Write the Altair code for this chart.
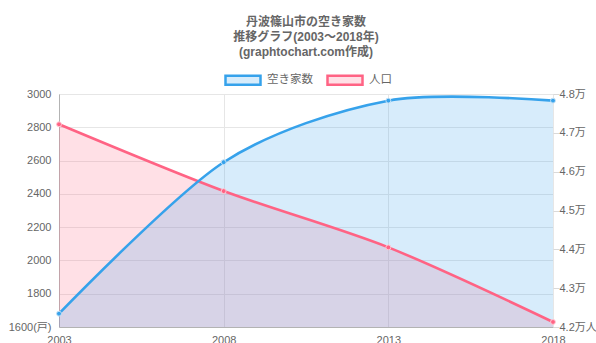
import altair as alt
import pandas as pd

# ---- data ----
years = [2003, 2008, 2013, 2018]
akiya = [1680, 2590, 2960, 2960]          # 空き家数 (戸), left axis
jinko = [47220, 45500, 44050, 42130]      # 人口 (人), right axis
series_names = ["空き家数", "人口"]
title_lines = ["丹波篠山市の空き家数", "推移グラフ(2003～2018年)", "(graphtochart.com作成)"]
left_ticks = [1600, 1800, 2000, 2200, 2400, 2600, 2800, 3000]
right_ticks = [42000, 43000, 44000, 45000, 46000, 47000, 48000]
left_domain = [1600, 3000]
right_domain = [42000, 48000]

# ---- styles ----
line_colors = ["#36a2eb", "#ff6384"]
fill_colors = ["rgba(54,162,235,0.2)", "rgba(255,99,132,0.2)"]
FONT = "Liberation Sans, Noto Sans CJK JP, sans-serif"
TXT = "#666666"
GRID = "#e6e6e6"
AXIS_LINE = "#b3b3b3"
TENSION = 0.12

df = pd.DataFrame({
    "year": years + years,
    "series": [series_names[0]] * len(years) + [series_names[1]] * len(years),
    "value": akiya + jinko,
})
df_a = df[df["series"] == series_names[0]]
df_j = df[df["series"] == series_names[1]]

legend = alt.Legend(
    title=None, orient="none", legendX=165, legendY=-33, direction="horizontal",
    symbolType="M-1,-0.26H1V0.26H-1Z", symbolSize=1225, symbolStrokeWidth=2.5,
    labelFont=FONT, labelFontSize=11.5, labelColor=TXT, labelOffset=5, columnPadding=9,
)
fill_enc = alt.Fill("series:N", scale=alt.Scale(domain=series_names, range=fill_colors), legend=legend)
stroke_enc = alt.Stroke("series:N", scale=alt.Scale(domain=series_names, range=line_colors), legend=legend)

x_enc = alt.X(
    "year:Q",
    scale=alt.Scale(domain=[years[0], years[-1]], nice=False, zero=False),
    axis=alt.Axis(values=years, format="d", title=None, grid=True, gridColor=GRID,
                  domainColor=AXIS_LINE, tickSize=0, labelPadding=7, labelFlush=False,
                  labelOverlap=False, labelFont=FONT, labelFontSize=11, labelColor=TXT),
)

left_axis = alt.Axis(orient="left", values=left_ticks, title=None, grid=True, gridColor=GRID,
                     domainColor=AXIS_LINE, tickSize=0, labelPadding=8,
                     labelExpr="datum.value == 1600 ? '1600(戸)' : '' + datum.value",
                     labelFont=FONT, labelFontSize=11, labelColor=TXT)
right_axis = alt.Axis(orient="right", values=right_ticks, title=None, grid=False, domain=False,
                      tickSize=6, tickColor="#d9d9d9", labelPadding=0,
                      labelExpr="datum.value == 42000 ? '4.2万人' : format(datum.value / 10000, '.1f') + '万'",
                      labelFont=FONT, labelFontSize=11, labelColor=TXT)


def yA(axis=None):
    return alt.Y("value:Q", scale=alt.Scale(domain=left_domain, nice=False, zero=False), axis=axis)


def yJ(axis=None):
    return alt.Y("value:Q", scale=alt.Scale(domain=right_domain, nice=False, zero=False), axis=axis)


area_j = alt.Chart(df_j).mark_area(interpolate="cardinal", tension=TENSION).encode(
    x=x_enc, y=yJ(right_axis), y2=alt.datum(right_domain[0]), fill=fill_enc)
area_a = alt.Chart(df_a).mark_area(interpolate="cardinal", tension=TENSION).encode(
    x=x_enc, y=yA(left_axis), y2=alt.datum(left_domain[0]), fill=fill_enc)
line_j = alt.Chart(df_j).mark_line(interpolate="cardinal", tension=TENSION, strokeWidth=2.6).encode(
    x=x_enc, y=yJ(), stroke=stroke_enc)
line_a = alt.Chart(df_a).mark_line(interpolate="cardinal", tension=TENSION, strokeWidth=2.6).encode(
    x=x_enc, y=yA(), stroke=stroke_enc)
pts_j = alt.Chart(df_j).mark_point(shape="circle", size=24, filled=True, fill=line_colors[1],
                                   stroke="#ffc9d4", strokeWidth=1, opacity=1).encode(
    x=x_enc, y=yJ())
pts_a = alt.Chart(df_a).mark_point(shape="circle", size=24, filled=True, fill=line_colors[0],
                                   stroke="#c3e1f7", strokeWidth=1, opacity=1).encode(
    x=x_enc, y=yA())

chart = alt.layer(area_j, area_a, line_j, line_a, pts_j, pts_a).resolve_scale(
    y="independent"
).properties(
    width=494, height=233,
    autosize=alt.AutoSizeParams(type="none"),
    padding={"left": 59, "top": 94, "right": 43, "bottom": 16},
    title=alt.TitleParams(text=title_lines, font=FONT, fontSize=12, fontWeight="bold", color=TXT,
                          anchor="middle", frame="group", offset=2.5, lineHeight=15),
).configure_view(stroke=None).configure(background="white")

chart.save("out.html", embed_options={"renderer": "svg", "actions": False})
